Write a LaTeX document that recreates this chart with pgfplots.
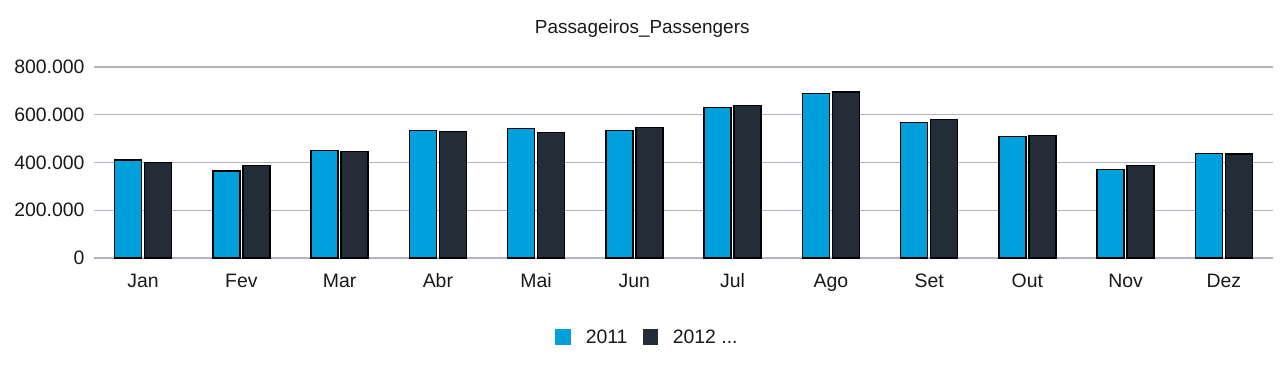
\documentclass[border=0pt]{standalone}
\usepackage{pgfplots}
\pgfplotsset{compat=1.18}
\usepackage{fontspec}
\setmainfont{Liberation Sans}
\definecolor{cA}{RGB}{0,160,220}
\definecolor{cB}{RGB}{35,45,55}
\definecolor{gridc}{RGB}{178,178,192}
\definecolor{txt}{RGB}{25,25,25}
\begin{document}
\begin{tikzpicture}
\path[use as bounding box] (0bp,0bp) rectangle (1281bp,-371bp);
\begin{axis}[
  at={(94bp,-258bp)}, anchor=south west,
  scale only axis, width=1179bp, height=191bp,
  xmin=-0.5, xmax=11.5, ymin=0, ymax=800000,
  axis line style={draw=none},
  tick style={draw=none},
  xtick={0,1,2,3,4,5,6,7,8,9,10,11},
  xticklabels={Jan,Fev,Mar,Abr,Mai,Jun,Jul,Ago,Set,Out,Nov,Dez},
  ytick={0,200000,400000,600000,800000},
  scaled y ticks=false,
  /pgf/number format/fixed,
  /pgf/number format/1000 sep={.},
  /pgf/number format/assume math mode=true,
  ymajorgrids, grid style={gridc, line width=1.3bp},
  ticklabel style={font=\fontsize{19.5}{23}\selectfont, text=txt},
  xticklabel style={anchor=base, yshift=-25bp},
  yticklabel style={xshift=-6bp},
  title={Passageiros\_Passengers},
  title style={font=\fontsize{19}{23}\selectfont, text=txt, at={(0.465,1)}, anchor=base, yshift=28bp},
  ybar, bar width=27bp,
  legend columns=2,
  legend style={draw=none, at={(0.4695,-0.414)}, anchor=center,
    font=\fontsize{19.5}{23}\selectfont, text=txt,
    /tikz/every even column/.append style={column sep=13bp}},
]
\addplot[fill=cA, draw=black, line width=1.3bp, bar shift=-15bp,
  legend image code/.code={\fill[cA] (0bp,-7bp) rectangle (14bp,7bp); \path (27bp,0bp);}]
 coordinates {(0,411000) (1,365000) (2,450000) (3,534000) (4,543000) (5,534000)
  (6,629000) (7,688000) (8,568000) (9,508000) (10,372000) (11,439000)};
\addlegendentry{2011}
\addplot[fill=cB, draw=black, line width=1.3bp, bar shift=15bp,
  legend image code/.code={\fill[cB] (0bp,-7bp) rectangle (14bp,7bp); \path (27bp,0bp);}]
 coordinates {(0,401000) (1,387000) (2,445000) (3,531000) (4,527000) (5,548000)
  (6,639000) (7,695000) (8,579000) (9,512000) (10,387000) (11,435000)};
\addlegendentry{2012 ...}
\end{axis}
\end{tikzpicture}
\end{document}
